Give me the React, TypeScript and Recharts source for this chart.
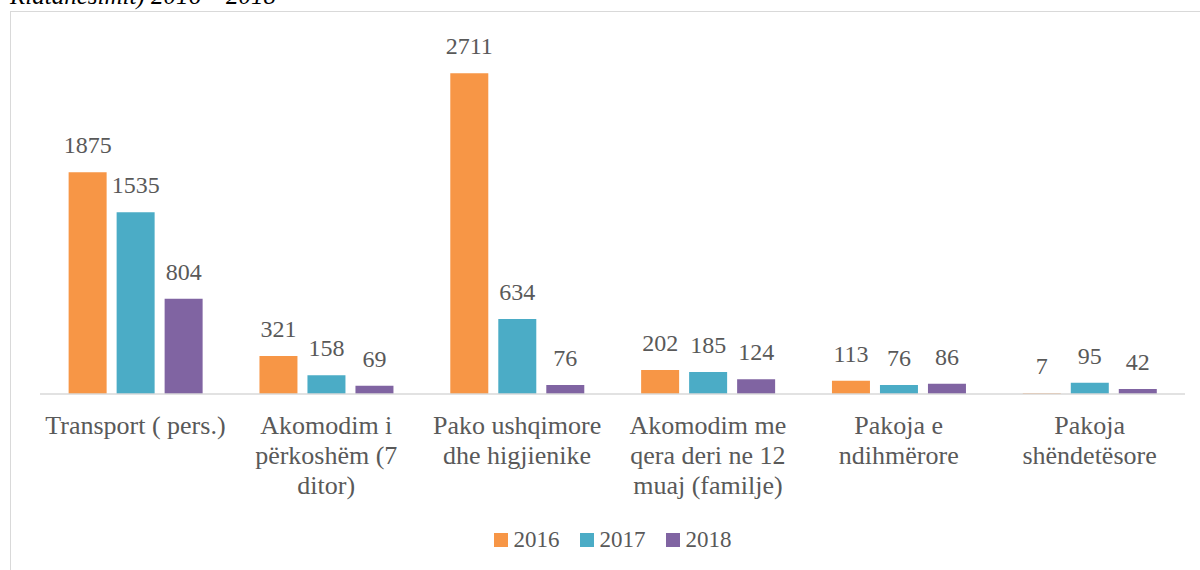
import { BarChart, Bar, XAxis, YAxis, Legend, LabelList } from 'recharts';

// category labels, with the line breaks used on the axis
const categories = [
  'Transport ( pers.)',
  'Akomodim i\npërkoshëm (7\nditor)',
  'Pako ushqimore\ndhe higjienike',
  'Akomodim me\nqera deri ne 12\nmuaj (familje)',
  'Pakoja e\nndihmërore',
  'Pakoja\nshëndetësore'
];
const values2016 = [1875, 321, 2711, 202, 113, 7];
const values2017 = [1535, 158, 634, 185, 76, 95];
const values2018 = [804, 69, 76, 124, 86, 42];
const seriesNames = ['2016', '2017', '2018'];
const seriesColors = ['#F79646', '#4BACC6', '#8064A2'];

const FONT = 'Liberation Serif';
const TEXT_GRAY = '#595959';

const data = categories.map((name, i) => ({
  name,
  '2016': values2016[i],
  '2017': values2017[i],
  '2018': values2018[i]
}));

function CategoryTick({ x, y, payload }: any) {
  const lines = String(payload.value).split('\n');
  return <text x={x} y={y + 40} textAnchor="middle" fill={TEXT_GRAY} fontSize={26} style={{ fontFamily: FONT }}>
      {lines.map((line, i) => <tspan key={i} x={x} dy={i === 0 ? 0 : 30}>{line}</tspan>)}
    </text>;
}

function LegendContent() {
  return <div style={{
    display: 'flex',
    justifyContent: 'center',
    alignItems: 'center',
    height: 30,
    fontFamily: FONT,
    fontSize: 23,
    color: TEXT_GRAY
  }}>
      {seriesNames.map((s, i) => <div key={s} style={{ display: 'flex', alignItems: 'center', marginRight: i < 2 ? 20 : 0 }}>
          <span style={{ width: 14, height: 14, background: seriesColors[i], display: 'inline-block', marginRight: 6 }} />
          <span>{s}</span>
        </div>)}
    </div>;
}

export default function App() {
  return <div style={{ position: 'absolute', left: 0, top: 0, width: 1200, height: 570, overflow: 'hidden', background: '#fff', fontFamily: FONT }}>
      <div style={{
      position: 'absolute',
      left: 10,
      top: -16,
      fontFamily: FONT,
      fontStyle: 'italic',
      fontSize: 25,
      lineHeight: '24px',
      color: '#000',
      whiteSpace: 'nowrap'
    }}>
        Riatdhesimit) 2016 – 2018
      </div>
      <div style={{
      position: 'absolute',
      left: 10,
      top: 11,
      width: 1300,
      height: 700,
      border: '1.5px solid #d9d9d9'
    }} />
      <div style={{ position: 'absolute', left: 0, top: 0 }}>
        <BarChart width={1200} height={570} data={data} margin={{ top: 39, right: 15, bottom: 15, left: 40 }} barCategoryGap="15%" barGap={10} style={{ fontFamily: FONT }}>
          <XAxis dataKey="name" interval={0} tickLine={false} tickSize={0} tickMargin={0} height={131} axisLine={{ stroke: '#d9d9d9', strokeWidth: 1.5 }} tick={<CategoryTick />} />
          <YAxis hide domain={[0, 3000]} />
          <Legend verticalAlign="bottom" height={30} content={<LegendContent />} />
          {seriesNames.map((s, i) => <Bar key={s} dataKey={s} fill={seriesColors[i]} isAnimationActive={false}>
              <LabelList dataKey={s} position="top" offset={19} fill={TEXT_GRAY} fontSize={24} fontFamily={FONT} style={{ fontFamily: FONT }} />
            </Bar>)}
        </BarChart>
      </div>
    </div>;
}
